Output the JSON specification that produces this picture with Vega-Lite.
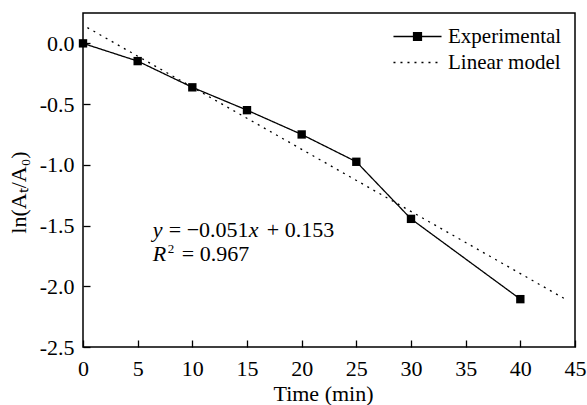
{
  "$schema": "https://vega.github.io/schema/vega-lite/v6.json",
  "width": 492,
  "height": 334,
  "autosize": {"type": "none"},
  "padding": {"left": 83, "top": 13, "right": 12, "bottom": 58},
  "background": "white",
  "config": {
    "view": {"stroke": "black", "strokeWidth": 1.5},
    "font": "Liberation Serif, Times New Roman, serif",
    "text": {"font": "Liberation Serif, Times New Roman, serif", "color": "black"}
  },
  "data": {
    "values": [
      {"series": "Experimental", "t": 0, "v": 0.0},
      {"series": "Experimental", "t": 5, "v": -0.146},
      {"series": "Experimental", "t": 10, "v": -0.362},
      {"series": "Experimental", "t": 15, "v": -0.55},
      {"series": "Experimental", "t": 20, "v": -0.75},
      {"series": "Experimental", "t": 25, "v": -0.975},
      {"series": "Experimental", "t": 30, "v": -1.445},
      {"series": "Experimental", "t": 40, "v": -2.106},
      {"series": "Linear model", "t": 0.4, "v": 0.13},
      {"series": "Linear model", "t": 44, "v": -2.1}
    ]
  },
  "layer": [
    {
      "mark": {"type": "line", "color": "black", "strokeWidth": 1.3},
      "encoding": {
        "x": {
          "field": "t", "type": "quantitative",
          "scale": {"domain": [0, 45], "nice": false, "zero": false},
          "axis": {
            "values": [0, 2.5, 5, 7.5, 10, 12.5, 15, 17.5, 20, 22.5, 25, 27.5, 30, 32.5, 35, 37.5, 40, 42.5, 45],
            "labelExpr": "datum.value % 5 == 0 ? format(datum.value, 'd') : ''",
            "title": "Time (min)",
            "grid": false, "domain": false,
            "tickSize": {"condition": {"test": "datum.value % 5 == 0", "value": -7}, "value": -4},
            "tickColor": "black", "tickWidth": 1.3,
            "labelPadding": 18,
            "labelFont": "Liberation Serif, Times New Roman, serif", "labelFontSize": 22, "labelColor": "black",
            "labelOverlap": false, "labelFlush": false,
            "titleFont": "Liberation Serif, Times New Roman, serif", "titleFontSize": 22, "titleFontWeight": "normal", "titleColor": "black",
            "titleX": 240, "titleY": 46, "titleBaseline": "middle", "titleAlign": "center"
          }
        },
        "y": {
          "field": "v", "type": "quantitative",
          "scale": {"domain": [-2.5, 0.25], "nice": false, "zero": false},
          "axis": {
            "values": [-2.5, -2.25, -2, -1.75, -1.5, -1.25, -1, -0.75, -0.5, -0.25, 0],
            "labelExpr": "(datum.value * 2) % 1 == 0 ? (datum.value < 0 ? '-' : '') + format(abs(datum.value), '.1f') : ''",
            "title": "ln(Aₜ/A₀)",
            "grid": false, "domain": false,
            "tickSize": {"condition": {"test": "(datum.value * 2) % 1 == 0", "value": -7}, "value": -4},
            "tickColor": "black", "tickWidth": 1.3,
            "labelPadding": 16,
            "labelFont": "Liberation Serif, Times New Roman, serif", "labelFontSize": 22, "labelColor": "black",
            "labelOverlap": false, "labelFlush": false,
            "titleFont": "Liberation Serif, Times New Roman, serif", "titleFontSize": 22, "titleFontWeight": "normal", "titleColor": "black",
            "titleX": -65, "titleY": 179, "titleBaseline": "middle", "titleAlign": "center", "titleAngle": -90
          }
        },
        "strokeDash": {
          "field": "series", "type": "nominal",
          "scale": {"domain": ["Experimental", "Linear model"], "range": [[1, 0], [2, 5]]},
          "legend": {
            "title": null,
            "orient": "none", "legendX": 309, "legendY": 13,
            "padding": 0,
            "labelFont": "Liberation Serif, Times New Roman, serif", "labelFontSize": 21, "labelColor": "black",
            "symbolSize": 324, "symbolOffset": 15, "labelOffset": 20, "rowPadding": 4,
            "symbolStrokeColor": "black", "symbolFillColor": "black", "symbolStrokeWidth": 1.3,
            "encode": {
              "symbols": {
                "update": {
                  "shape": {"signal": "datum.value === 'Experimental' ? 'M-2.67,0H2.67M-0.44,-0.44H0.44V0.44H-0.44Z' : 'M-2.67,0H2.67'"},
                  "fill": {"value": "black"},
                  "stroke": {"value": "black"}
                }
              }
            }
          }
        }
      }
    },
    {
      "transform": [{"filter": "datum.series === 'Experimental'"}],
      "mark": {"type": "point", "shape": "square", "filled": true, "color": "black", "size": 70, "opacity": 1},
      "encoding": {
        "x": {"field": "t", "type": "quantitative"},
        "y": {"field": "v", "type": "quantitative"}
      }
    },
    {
      "data": {"values": [{"s": "y"}]},
      "mark": {"type": "text", "align": "left", "baseline": "middle", "fontSize": 22, "fontStyle": "italic", "dx": 0, "font": "Liberation Serif, Times New Roman, serif"},
      "encoding": {"x": {"datum": 6.38, "type": "quantitative"}, "y": {"datum": -1.538, "type": "quantitative"}, "text": {"field": "s"}}
    },
    {
      "data": {"values": [{"s": "= −0.051"}]},
      "mark": {"type": "text", "align": "left", "baseline": "middle", "fontSize": 22, "dx": 16, "font": "Liberation Serif, Times New Roman, serif"},
      "encoding": {"x": {"datum": 6.38, "type": "quantitative"}, "y": {"datum": -1.538, "type": "quantitative"}, "text": {"field": "s"}}
    },
    {
      "data": {"values": [{"s": "x"}]},
      "mark": {"type": "text", "align": "left", "baseline": "middle", "fontSize": 22, "fontStyle": "italic", "dx": 96, "font": "Liberation Serif, Times New Roman, serif"},
      "encoding": {"x": {"datum": 6.38, "type": "quantitative"}, "y": {"datum": -1.538, "type": "quantitative"}, "text": {"field": "s"}}
    },
    {
      "data": {"values": [{"s": "+ 0.153"}]},
      "mark": {"type": "text", "align": "left", "baseline": "middle", "fontSize": 22, "dx": 114, "font": "Liberation Serif, Times New Roman, serif"},
      "encoding": {"x": {"datum": 6.38, "type": "quantitative"}, "y": {"datum": -1.538, "type": "quantitative"}, "text": {"field": "s"}}
    },
    {
      "data": {"values": [{"s": "R"}]},
      "mark": {"type": "text", "align": "left", "baseline": "middle", "fontSize": 22, "fontStyle": "italic", "dx": 0, "font": "Liberation Serif, Times New Roman, serif"},
      "encoding": {"x": {"datum": 6.38, "type": "quantitative"}, "y": {"datum": -1.735, "type": "quantitative"}, "text": {"field": "s"}}
    },
    {
      "data": {"values": [{"s": "2"}]},
      "mark": {"type": "text", "align": "left", "baseline": "middle", "fontSize": 13, "dx": 15, "dy": -5, "font": "Liberation Serif, Times New Roman, serif"},
      "encoding": {"x": {"datum": 6.38, "type": "quantitative"}, "y": {"datum": -1.735, "type": "quantitative"}, "text": {"field": "s"}}
    },
    {
      "data": {"values": [{"s": "= 0.967"}]},
      "mark": {"type": "text", "align": "left", "baseline": "middle", "fontSize": 22, "dx": 29, "font": "Liberation Serif, Times New Roman, serif"},
      "encoding": {"x": {"datum": 6.38, "type": "quantitative"}, "y": {"datum": -1.735, "type": "quantitative"}, "text": {"field": "s"}}
    }
  ]
}
